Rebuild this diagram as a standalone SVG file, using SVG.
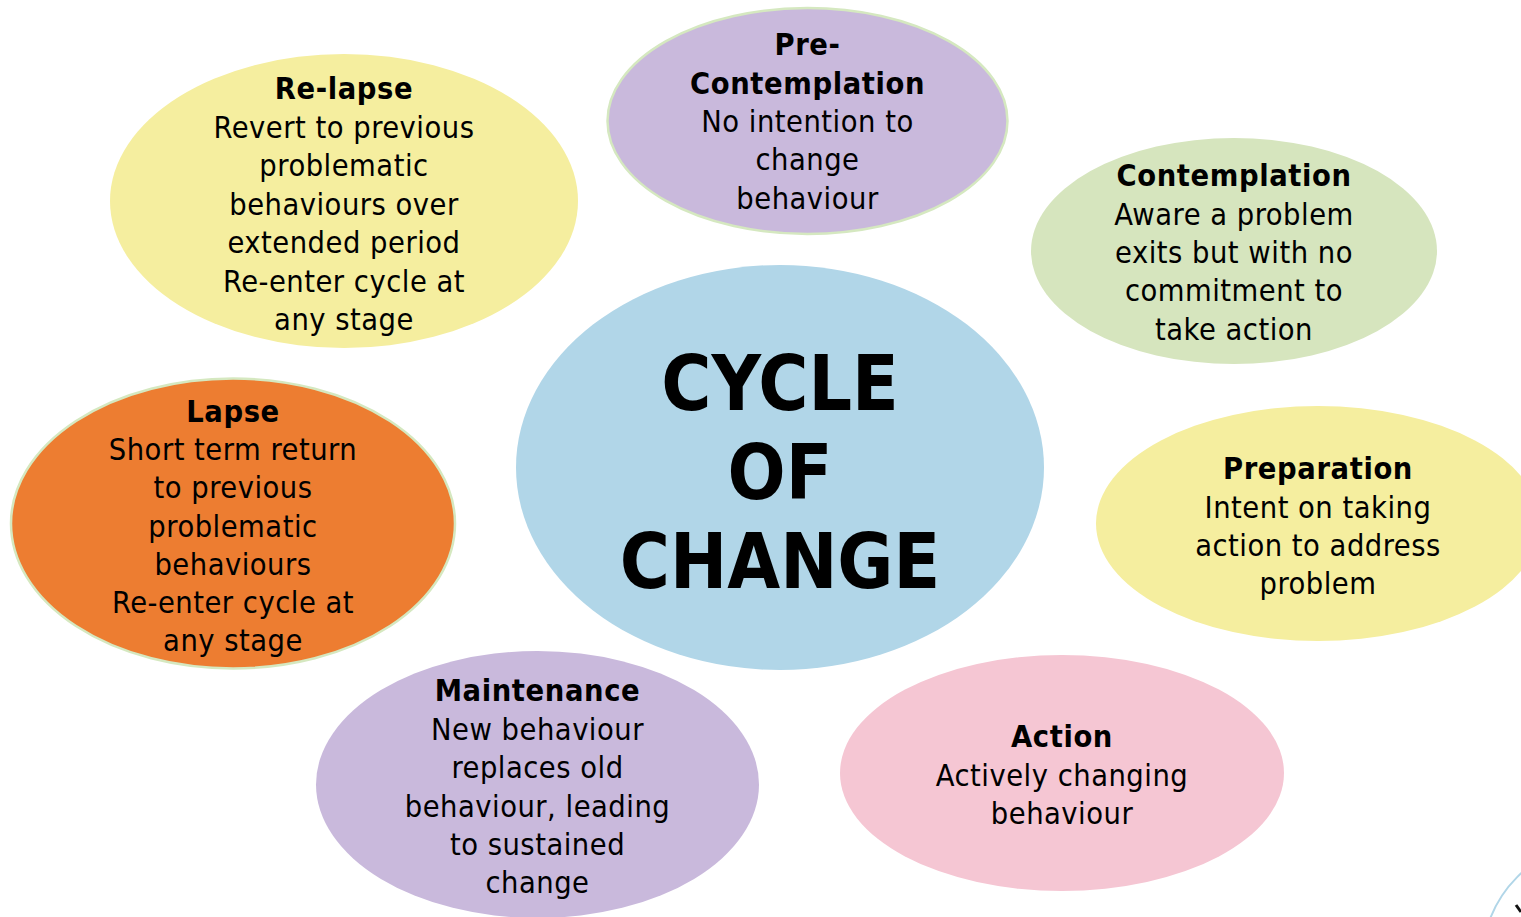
<svg xmlns="http://www.w3.org/2000/svg" width="1521" height="917" viewBox="0 0 1521 917">
  <style>
    .lbl { font-family: "DejaVu Sans Condensed", "DejaVu Sans", sans-serif; font-stretch: condensed; font-size: 30.5px; letter-spacing: 0.5px; fill: #000; text-anchor: middle; }
    .ttl { font-weight: bold; letter-spacing: 0.6px; }
    .big { font-family: "DejaVu Sans Condensed", "DejaVu Sans", sans-serif; font-stretch: condensed; font-weight: bold; font-size: 76px; fill: #000; text-anchor: middle; }
    .yellow { fill: #F5EE9F; }
    .purple { fill: #C9B9DC; }
    .green { fill: #D6E5BE; }
    .blue { fill: #B1D6E8; }
    .orange { fill: #ED7D31; }
    .pink { fill: #F5C6D3; }
    .edged { stroke: #D5E8C0; stroke-width: 2.5; }
  </style>
  <rect width="1521" height="917" fill="#FFFFFF"/>

  <!-- partial icon at the bottom-right edge -->
  <g id="corner-mark">
    <circle cx="1602" cy="962" r="120" fill="none" stroke="#B1D6E8" stroke-width="2"/>
    <line x1="1516" y1="905" x2="1521" y2="912" stroke="#111" stroke-width="3"/>
  </g>

  <!-- no connectors: stages sit around the hub -->
  <g id="connectors"/>

  <g id="relapse">
    <ellipse class="yellow" cx="344" cy="201" rx="234" ry="147"/>
    <text class="lbl ttl" x="344" y="99">Re-lapse</text>
    <text class="lbl" x="344" y="137.5">Revert to previous</text>
    <text class="lbl" x="344" y="176">problematic</text>
    <text class="lbl" x="344" y="214.5">behaviours over</text>
    <text class="lbl" x="344" y="253">extended period</text>
    <text class="lbl" x="344" y="291.5">Re-enter cycle at</text>
    <text class="lbl" x="344" y="330">any stage</text>
  </g>

  <g id="precontemplation">
    <ellipse class="purple edged" cx="807.5" cy="121" rx="200" ry="113"/>
    <text class="lbl ttl" x="807.5" y="55">Pre-</text>
    <text class="lbl ttl" x="807.5" y="93.5">Contemplation</text>
    <text class="lbl" x="807.5" y="132">No intention to</text>
    <text class="lbl" x="807.5" y="170">change</text>
    <text class="lbl" x="807.5" y="208.5">behaviour</text>
  </g>

  <g id="contemplation">
    <ellipse class="green" cx="1234" cy="251" rx="203" ry="113"/>
    <text class="lbl ttl" x="1234" y="186">Contemplation</text>
    <text class="lbl" x="1234" y="224.5">Aware a problem</text>
    <text class="lbl" x="1234" y="263">exits but with no</text>
    <text class="lbl" x="1234" y="301">commitment to</text>
    <text class="lbl" x="1234" y="339.5">take action</text>
  </g>

  <g id="preparation">
    <ellipse class="yellow" cx="1318" cy="523.5" rx="222" ry="117.5"/>
    <text class="lbl ttl" x="1318" y="479">Preparation</text>
    <text class="lbl" x="1318" y="517.5">Intent on taking</text>
    <text class="lbl" x="1318" y="556">action to address</text>
    <text class="lbl" x="1318" y="594">problem</text>
  </g>

  <g id="lapse">
    <ellipse class="orange edged" cx="233" cy="523.5" rx="222" ry="145"/>
    <text class="lbl ttl" x="233" y="422">Lapse</text>
    <text class="lbl" x="233" y="460">Short term return</text>
    <text class="lbl" x="233" y="498">to previous</text>
    <text class="lbl" x="233" y="536.5">problematic</text>
    <text class="lbl" x="233" y="574.5">behaviours</text>
    <text class="lbl" x="233" y="613">Re-enter cycle at</text>
    <text class="lbl" x="233" y="651">any stage</text>
  </g>

  <g id="hub">
    <ellipse class="blue" cx="780" cy="467.5" rx="264" ry="202.5"/>
    <text class="big" x="780" y="410">CYCLE</text>
    <text class="big" x="780" y="499">OF</text>
    <text class="big" x="780" y="588">CHANGE</text>
  </g>

  <g id="maintenance">
    <ellipse class="purple" cx="537.5" cy="784.5" rx="221.5" ry="133.5"/>
    <text class="lbl ttl" x="537.5" y="701">Maintenance</text>
    <text class="lbl" x="537.5" y="740">New behaviour</text>
    <text class="lbl" x="537.5" y="778">replaces old</text>
    <text class="lbl" x="537.5" y="816.5">behaviour, leading</text>
    <text class="lbl" x="537.5" y="855">to sustained</text>
    <text class="lbl" x="537.5" y="893">change</text>
  </g>

  <g id="action">
    <ellipse class="pink" cx="1062" cy="773" rx="222" ry="118"/>
    <text class="lbl ttl" x="1062" y="747">Action</text>
    <text class="lbl" x="1062" y="786">Actively changing</text>
    <text class="lbl" x="1062" y="824">behaviour</text>
  </g>
</svg>
